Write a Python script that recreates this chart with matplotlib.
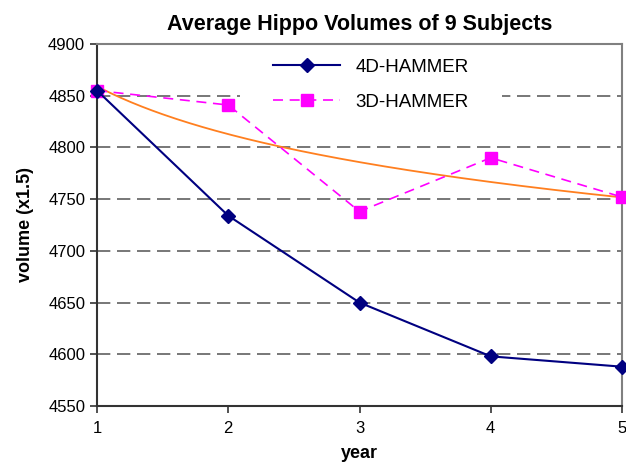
import numpy as np
import matplotlib
matplotlib.use('Agg')
import matplotlib.pyplot as plt
from matplotlib.patches import Rectangle

plt.rcParams['font.family'] = ['Liberation Sans', 'DejaVu Sans']

years = [1, 2, 3, 4, 5]
hammer_4d = [4855, 4734, 4650, 4598, 4588]
hammer_3d = [4855, 4841, 4738, 4790, 4752]

# logarithmic trend line of the 3D series (as in the spreadsheet chart)
b, a = np.polyfit(np.log(years), hammer_3d, 1)
trend_x = np.linspace(1, 5, 200)
trend_y = a + b * np.log(trend_x)

fig = plt.figure(figsize=(6.26, 4.63), dpi=100)
ax = fig.add_axes([97 / 626, 57 / 463, 525 / 626, 362 / 463])

ax.plot(trend_x, trend_y, color='#ff7f1f', lw=1.3, zorder=2)
ax.plot(years, hammer_4d, color='#000080', lw=1.5, marker='D', markersize=7,
        label='4D-HAMMER', zorder=4, clip_on=False)
ax.plot(years, hammer_3d, color='#ff00ff', lw=1.2, ls=(0, (6, 4)), marker='s',
        markersize=8, label='3D-HAMMER', zorder=3, clip_on=False)

ax.set_xlim(1, 5)
ax.set_ylim(4550, 4900)
ax.set_xticks(years)
ax.set_yticks(range(4550, 4901, 50))
ax.yaxis.grid(True, color='#606060', ls=(0, (8, 4)), lw=1.2)
ax.set_axisbelow(True)

# white legend area hiding the gridline behind it
ax.add_patch(Rectangle((0.272, 0.76), 0.499, 0.22, transform=ax.transAxes,
                       facecolor='white', edgecolor='none', zorder=1.5))

for side in ['top', 'right']:
    ax.spines[side].set_color('#808080')
    ax.spines[side].set_linewidth(1.5)
for side in ['left', 'bottom']:
    ax.spines[side].set_color('#333333')
    ax.spines[side].set_linewidth(1.5)

ax.tick_params(labelsize=12, length=5, width=1.2, color='#333333')
ax.tick_params(axis='x', pad=6)

ax.set_title('Average Hippo Volumes of 9 Subjects', fontsize=15.5,
             fontweight='bold', pad=10)
ax.set_xlabel('year', fontsize=13, fontweight='bold', labelpad=6)
ax.set_ylabel('volume (x1.5)', fontsize=13, fontweight='bold', labelpad=10)

ax.legend(loc='upper left', bbox_to_anchor=(0.335, 0.96), frameon=False,
          fontsize=13.5, handlelength=3.6, handletextpad=0.8,
          labelspacing=0.95, borderpad=0, borderaxespad=0)

fig.savefig('out.png', dpi=100)
